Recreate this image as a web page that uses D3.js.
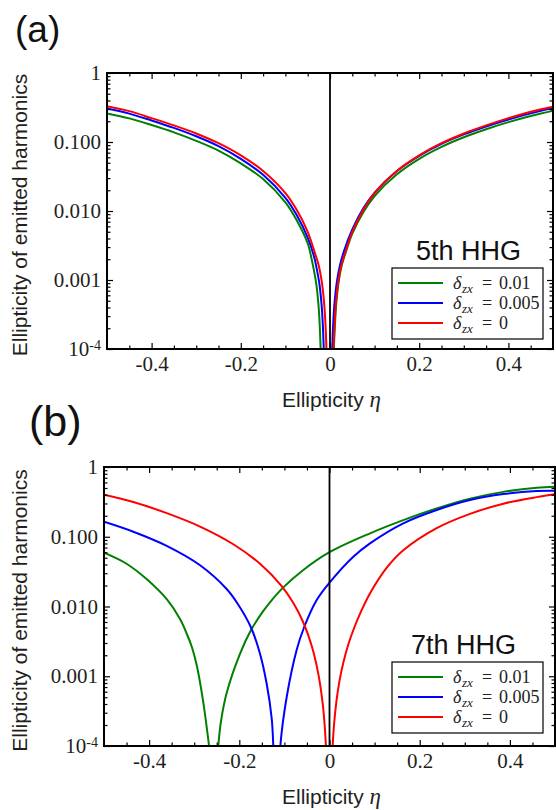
<!DOCTYPE html>
<html>
<head>
<meta charset="utf-8">
<script src="https://cdn.jsdelivr.net/npm/d3@7"></script>
<style>
  body { margin: 0; background: #fff; }
</style>
</head>
<body>
<div id="chart"></div>
<script>
// labels and ticks
const deltaLabels = ["0.01", "0.005", "0"];
const seriesColors = ["#008000", "#0000ff", "#ff0000"];
const xMajorTicks = [-0.4, -0.2, 0, 0.2, 0.4];
const yMajorTicks = [1e-4, 1e-3, 1e-2, 1e-1, 1];
const yTickLabels = ["10-4", "0.001", "0.010", "0.100", "1"];
const harmonicNames = ["5th HHG", "7th HHG"];

// (a) 5th harmonic, [eta, ellipticity] (left / right of the dip)
const a5GreenL = [[-0.5,0.26],[-0.45,0.22],[-0.4,0.176],[-0.35,0.138],[-0.3,0.104],[-0.25,0.075],[-0.2,0.049],[-0.15,0.029],[-0.1,0.0133],[-0.075,0.0074],[-0.05,0.0034],[-0.045,0.0026],[-0.038,0.0016],[-0.031,0.0009],[-0.026,0.00045],[-0.023,0.00022],[-0.021,0.0001],[-0.019,0.00004]];
const a5GreenR = [[0.006,0.00004],[0.0085,0.0001],[0.011,0.00022],[0.014,0.00045],[0.019,0.0009],[0.026,0.0016],[0.036,0.0026],[0.05,0.0047],[0.075,0.0097],[0.1,0.0165],[0.15,0.034],[0.2,0.057],[0.25,0.085],[0.3,0.117],[0.35,0.153],[0.4,0.194],[0.45,0.238],[0.5,0.285]];
const a5BlueL = [[-0.5,0.305],[-0.45,0.258],[-0.4,0.205],[-0.35,0.16],[-0.3,0.121],[-0.25,0.087],[-0.2,0.057],[-0.15,0.0335],[-0.1,0.0155],[-0.075,0.0088],[-0.05,0.0041],[-0.035,0.0021],[-0.031,0.0016],[-0.024,0.0009],[-0.019,0.00045],[-0.016,0.00022],[-0.014,0.0001],[-0.012,0.00004]];
const a5BlueR = [[0.003,0.00004],[0.005,0.0001],[0.007,0.00022],[0.01,0.00045],[0.015,0.0009],[0.022,0.0016],[0.032,0.0027],[0.05,0.0054],[0.075,0.011],[0.1,0.0185],[0.15,0.038],[0.2,0.063],[0.25,0.094],[0.3,0.129],[0.35,0.168],[0.4,0.212],[0.45,0.26],[0.5,0.31]];
const a5RedL = [[-0.5,0.33],[-0.45,0.28],[-0.4,0.222],[-0.35,0.174],[-0.3,0.133],[-0.25,0.096],[-0.2,0.064],[-0.15,0.038],[-0.1,0.0182],[-0.075,0.0105],[-0.05,0.005],[-0.035,0.0026],[-0.025,0.0016],[-0.018,0.0009],[-0.013,0.00045],[-0.01,0.00022],[-0.008,0.0001],[-0.006,0.00004]];
const a5RedR = [[0.006,0.00004],[0.008,0.0001],[0.01,0.00022],[0.013,0.00045],[0.018,0.0009],[0.025,0.0016],[0.035,0.0026],[0.05,0.005],[0.075,0.0105],[0.1,0.0182],[0.15,0.038],[0.2,0.064],[0.25,0.096],[0.3,0.133],[0.35,0.174],[0.4,0.222],[0.45,0.275],[0.5,0.325]];

// (b) 7th harmonic
const b7GreenL = [[-0.5,0.059],[-0.45,0.041],[-0.405,0.0245],[-0.36,0.0125],[-0.3315,0.0066],[-0.316,0.004],[-0.305,0.0026],[-0.294,0.0014],[-0.2805,0.00045],[-0.2715,0.00017],[-0.2672,0.0001],[-0.264,0.00005]];
const b7GreenR = [[-0.249,0.00004],[-0.2465,0.0001],[-0.24,0.00024],[-0.2273,0.0006],[-0.1985,0.0021],[-0.174,0.0046],[-0.1475,0.0085],[-0.132,0.0115],[-0.1024,0.0188],[-0.058,0.0334],[0,0.06],[0.09,0.112],[0.1636,0.173],[0.2377,0.255],[0.3115,0.352],[0.3854,0.44],[0.4594,0.505],[0.5,0.522]];
const b7BlueL = [[-0.5,0.164],[-0.435,0.118],[-0.361,0.074],[-0.287,0.039],[-0.228,0.0178],[-0.2022,0.0106],[-0.174,0.005],[-0.1541,0.0021],[-0.1393,0.00078],[-0.1282,0.00025],[-0.1246,0.0001],[-0.123,0.00005]];
const b7BlueR = [[-0.111,0.00004],[-0.109,0.0001],[-0.095,0.0005],[-0.0727,0.0024],[-0.0565,0.005],[-0.0284,0.0124],[0,0.022],[0.0528,0.0518],[0.0898,0.0805],[0.1636,0.156],[0.2377,0.242],[0.3115,0.336],[0.3854,0.41],[0.4594,0.453],[0.5,0.457]];
const b7RedL = [[-0.5,0.40],[-0.435,0.315],[-0.361,0.218],[-0.287,0.14],[-0.2133,0.078],[-0.154,0.041],[-0.106,0.0196],[-0.0801,0.0112],[-0.058,0.0059],[-0.04,0.0028],[-0.025,0.0011],[-0.015,0.0004],[-0.01,0.00017],[-0.008,0.0001],[-0.006,0.00005]];
const b7RedR = [[0.005,0.00005],[0.007,0.0001],[0.01,0.0002],[0.015,0.00042],[0.022,0.00085],[0.031,0.0016],[0.042,0.0029],[0.055,0.005],[0.07,0.0085],[0.09,0.0155],[0.127,0.036],[0.1636,0.064],[0.2377,0.133],[0.3115,0.213],[0.3854,0.298],[0.4594,0.37],[0.5,0.406]];

const W = 556, H = 810;
const serif = "'Liberation Serif', 'Times New Roman', serif";
const sans = "'Liberation Sans', Arial, sans-serif";

const svg = d3.select("#chart").append("svg")
  .attr("width", W).attr("height", H)
  .style("background", "#fff");

const panels = [
  {id: "a", tag: "(a)", name: harmonicNames[0], left: 107, right: 553, top: 73, bottom: 349,
   branches: [[a5GreenL, a5GreenR], [a5BlueL, a5BlueR], [a5RedL, a5RedR]],
   tagX: 15, tagY: 42, tagSize: 37, hhgX: 416},
  {id: "b", tag: "(b)", name: harmonicNames[1], left: 104, right: 555, top: 467, bottom: 746,
   branches: [[b7GreenL, b7GreenR], [b7BlueL, b7BlueR], [b7RedL, b7RedR]],
   tagX: 29, tagY: 436, tagSize: 43, hhgX: 411}
];

// minor ticks
const xMinorTicks = d3.range(-9, 10).map(i => i * 0.05)
  .filter(v => !xMajorTicks.some(m => Math.abs(m - v) < 1e-9));
const yMinorTicks = [1e-4, 1e-3, 1e-2, 1e-1].flatMap(d => d3.range(2, 10).map(k => k * d));

function addAxis(g, axisFn, scale, values, size, transform, fmt, pad) {
  const ax = axisFn(scale).tickValues(values).tickSize(-size).tickPadding(pad || 6)
    .tickFormat(fmt || "");
  const sel = g.append("g").attr("transform", transform).call(ax);
  sel.select(".domain").remove();
  sel.selectAll("line").attr("stroke", "#000").attr("stroke-width", 1.2);
  sel.attr("font-family", serif).attr("font-size", 21);
  sel.selectAll("text").attr("fill", "#231f20");
  return sel;
}

function drawPanel(p) {
  const x = d3.scaleLinear().domain([-0.5, 0.5]).range([p.left, p.right]);
  const y = d3.scaleLog().domain([1e-4, 1]).range([p.bottom, p.top]);
  const g = svg.append("g");

  svg.append("clipPath").attr("id", "clip" + p.id)
    .append("rect")
    .attr("x", p.left).attr("y", p.top)
    .attr("width", p.right - p.left).attr("height", p.bottom - p.top);

  const line = d3.line()
    .x(d => x(d[0]))
    .y(d => y(d[1]))
    .curve(d3.curveCatmullRom.alpha(0.5));

  const curves = g.append("g").attr("clip-path", "url(#clip" + p.id + ")");
  p.branches.forEach((pair, i) => {
    pair.forEach(b => {
      curves.append("path")
        .attr("d", line(b))
        .attr("fill", "none")
        .attr("stroke", seriesColors[i])
        .attr("stroke-width", 2);
    });
  });

  // eta = 0 line
  g.append("line")
    .attr("x1", x(0)).attr("x2", x(0))
    .attr("y1", p.top).attr("y2", p.bottom)
    .attr("stroke", "#000").attr("stroke-width", 1.8);

  // ticks on all 4 sides, pointing in
  addAxis(g, d3.axisBottom, x, xMajorTicks, 6, `translate(0,${p.bottom})`, d => String(d), 7);
  addAxis(g, d3.axisBottom, x, xMinorTicks, 3.5, `translate(0,${p.bottom})`);
  addAxis(g, d3.axisTop, x, xMajorTicks, 6, `translate(0,${p.top})`);
  addAxis(g, d3.axisTop, x, xMinorTicks, 3.5, `translate(0,${p.top})`);
  const yl = addAxis(g, d3.axisLeft, y, yMajorTicks, 6, `translate(${p.left},0)`,
    (d, i) => yTickLabels[i], 6);
  yl.selectAll("text").filter(d => d === 1e-4).each(function () {
    const t = d3.select(this).text("10");
    t.append("tspan").attr("dy", "-0.45em").attr("font-size", 14).text("-4");
  });
  addAxis(g, d3.axisLeft, y, yMinorTicks, 3.5, `translate(${p.left},0)`);
  addAxis(g, d3.axisRight, y, yMajorTicks, 6, `translate(${p.right},0)`);
  addAxis(g, d3.axisRight, y, yMinorTicks, 3.5, `translate(${p.right},0)`);

  // frame
  g.append("rect")
    .attr("x", p.left).attr("y", p.top)
    .attr("width", p.right - p.left).attr("height", p.bottom - p.top)
    .attr("fill", "none").attr("stroke", "#000").attr("stroke-width", 2);

  // harmonic name
  g.append("text")
    .attr("x", p.hhgX).attr("y", p.top + 187)
    .style("font-family", sans).style("font-size", "27px")
    .attr("fill", "#111")
    .text(p.name);

  // legend
  const lg = g.append("g");
  lg.append("rect")
    .attr("x", 392).attr("y", p.top + 195)
    .attr("width", 151).attr("height", 71)
    .attr("fill", "#fff").attr("stroke", "#000").attr("stroke-width", 1.2);
  deltaLabels.forEach((lab, i) => {
    const ry = p.top + 210 + i * 20;
    lg.append("line")
      .attr("x1", 398).attr("x2", 443).attr("y1", ry).attr("y2", ry)
      .attr("stroke", seriesColors[i]).attr("stroke-width", 2);
    const t = lg.append("text")
      .attr("y", ry + 6)
      .style("font-family", serif).style("font-size", "18px")
      .attr("fill", "#222");
    t.append("tspan").attr("x", 453).style("font-style", "italic").text("δ");
    t.append("tspan").attr("x", 462).attr("dy", 4).style("font-style", "italic")
      .style("font-size", "13px").text("zx");
    t.append("tspan").attr("x", 482).attr("dy", -4).text("=");
    t.append("tspan").attr("x", 499).text(lab);
  });

  // axis titles
  g.append("text")
    .attr("transform", `translate(27,${(p.top + p.bottom) / 2 + 4}) rotate(-90)`)
    .attr("text-anchor", "middle")
    .style("font-family", sans).style("font-size", "21px")
    .attr("fill", "#231f20")
    .text("Ellipticity of emitted harmonics");

  const xt = g.append("text")
    .attr("x", 282).attr("y", p.bottom + 58)
    .style("font-family", sans).style("font-size", "21px")
    .attr("fill", "#231f20");
  xt.append("tspan").text("Ellipticity ");
  xt.append("tspan").style("font-family", serif).style("font-style", "italic")
    .style("font-size", "23px").text("η");

  // panel tag
  g.append("text")
    .attr("x", p.tagX).attr("y", p.tagY)
    .style("font-family", sans).style("font-size", p.tagSize + "px")
    .attr("fill", "#111")
    .text(p.tag);
}

panels.forEach(drawPanel);
</script>
</body>
</html>
